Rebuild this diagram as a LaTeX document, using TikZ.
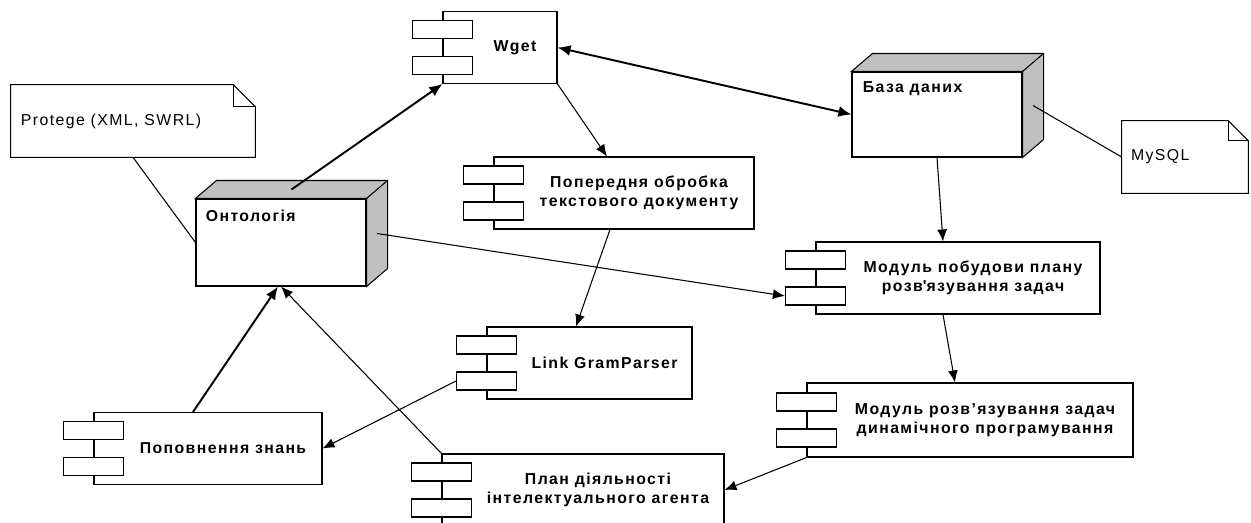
\documentclass[tikz,border=0pt]{standalone}
\usepackage{fontspec}
\setmainfont{Liberation Sans}[LetterSpace=9]
\usepackage{tikz}
\usetikzlibrary{arrows.meta, positioning, calc}
\definecolor{FaceGray}{RGB}{192,192,192}
\tikzstyle{flow} = [-{Latex[length=2.4mm,width=2mm]}, line width=0.6pt]
\tikzstyle{mainflow} = [-{Latex[length=2.6mm,width=2.2mm]}, line width=1.1pt]
\tikzstyle{dualflow} = [{Latex[length=2.6mm,width=2.2mm]}-{Latex[length=2.6mm,width=2.2mm]}, line width=1.1pt]

\begin{document}
\begin{tikzpicture}[x=0.2mm, y=-0.2mm,
    comp/.style={draw, line width=0.6pt, fill=white, minimum height=14.4mm, inner sep=0pt},
    port/.style={draw, line width=0.6pt, fill=white, minimum width=12mm, minimum height=3.6mm, inner sep=0pt},
    lbl/.style={font=\fontsize{9}{11}\selectfont\bfseries, align=center},
    txt/.style={font=\fontsize{9}{11}\selectfont, anchor=west, inner sep=0pt},
    cube/.style={draw, line width=0.6pt, fill=white, minimum width=34mm, inner sep=0pt},
    note/.style={minimum height=14.4mm, inner sep=0pt},
    link/.style={line width=0.6pt}
  ]
  \useasboundingbox (0,0) rectangle (1251,523);

  % 3d nodes
  \node[cube, minimum height=17.4mm] (onto) at (281,242.5) {};
  \filldraw[fill=FaceGray, line width=0.6pt] (onto.north west) -- ++(21,-18) -- ($(onto.north east)+(21,-18)$) -- ($(onto.south east)+(21,-18)$) -- (onto.south east) -- (onto.north east) -- cycle;
  \draw[link] (onto.north east) -- ++(21,-18);
  \node[lbl, anchor=west, inner sep=0pt] (ontotxt) at ([shift={(2mm,-3.4mm)}]onto.north west) {Онтологія};

  \node[cube, minimum height=17mm] (base) at (937,114.5) {};
  \filldraw[fill=FaceGray, line width=0.6pt] (base.north west) -- ++(21,-18) -- ($(base.north east)+(21,-18)$) -- ($(base.south east)+(21,-18)$) -- (base.south east) -- (base.north east) -- cycle;
  \draw[link] (base.north east) -- ++(21,-18);
  \node[lbl, anchor=west, inner sep=0pt] (basetxt) at ([shift={(2.2mm,-3.4mm)}]base.north west) {База даних};

  % notes
  \node[note, minimum width=48.8mm] (protege) at (133,121) {};
  \draw[link] (protege.south west) -- (protege.north west) -- ([xshift=-4.4mm]protege.north east) -- ([yshift=-4.4mm]protege.north east) -- (protege.south east) -- cycle;
  \draw[link] ([xshift=-4.4mm]protege.north east) |- ([yshift=-4.4mm]protege.north east);
  \node[txt] (protegetxt) at ([xshift=2mm]protege.west) {Protege (XML, SWRL)};

  \node[note, minimum width=25.2mm] (mysql) at (1185,157) {};
  \draw[link] (mysql.south west) -- (mysql.north west) -- ([xshift=-4mm]mysql.north east) -- ([yshift=-4mm]mysql.north east) -- (mysql.south east) -- cycle;
  \draw[link] ([xshift=-4mm]mysql.north east) |- ([yshift=-4mm]mysql.north east);
  \node[txt] (mysqltxt) at ([xshift=1.8mm]mysql.west) {MySQL};

  % components
  \node[comp, minimum width=22.8mm] (wget) at (500,47.5) {};
  \node[port] (wgetA) at ([yshift=3.6mm]wget.west) {};
  \node[port] (wgetB) at ([yshift=-3.6mm]wget.west) {};
  \node[lbl] (wgettxt) at ([xshift=3mm]wget.center) {Wget};

  \node[comp, minimum width=52mm] (prep) at (624,193) {};
  \node[port] (prepA) at ([yshift=3.6mm]prep.west) {};
  \node[port] (prepB) at ([yshift=-3.6mm]prep.west) {};
  \node[lbl] (preptxt) at ([xshift=3mm]prep.center) {Попередня обробка\\текстового документу};

  \node[comp, minimum width=41mm] (parser) at (589.5,363) {};
  \node[port] (parserA) at ([yshift=3.6mm]parser.west) {};
  \node[port] (parserB) at ([yshift=-3.6mm]parser.west) {};
  \node[lbl] (parsertxt) at ([xshift=3mm]parser.center) {Link GramParser};

  \node[comp, minimum width=45.6mm] (fill) at (208,448.5) {};
  \node[port] (fillA) at ([yshift=3.6mm]fill.west) {};
  \node[port] (fillB) at ([yshift=-3.6mm]fill.west) {};
  \node[lbl] (filltxt) at ([xshift=3mm]fill.center) {Поповнення знань};

  \node[comp, minimum width=56.4mm] (plan) at (583,490) {};
  \node[port] (planA) at ([yshift=3.6mm]plan.west) {};
  \node[port] (planB) at ([yshift=-3.6mm]plan.west) {};
  \node[lbl] (plantxt) at ([xshift=3mm]plan.center) {План діяльності\\інтелектуального агента};

  \node[comp, minimum width=56.8mm] (build) at (958,278) {};
  \node[port] (buildA) at ([yshift=3.6mm]build.west) {};
  \node[port] (buildB) at ([yshift=-3.6mm]build.west) {};
  \node[lbl] (buildtxt) at ([xshift=3mm]build.center) {Модуль побудови плану\\розв\textquotesingle язування задач};

  \node[comp, minimum width=65.2mm, minimum height=14.8mm] (solve) at (970,420) {};
  \node[port] (solveA) at ([yshift=3.6mm]solve.west) {};
  \node[port] (solveB) at ([yshift=-3.6mm]solve.west) {};
  \node[lbl] (solvetxt) at ([xshift=3mm]solve.center) {Модуль розв’язування задач\\динамічного програмування};

  % connectors
  \coordinate (ontotop) at ($(onto.north)+(10.5,-9)$);
  \coordinate (ontoside) at ($(onto.east)+(10.5,-9)$);
  \coordinate (baseside) at ($(base.east)+(10.5,-9)$);

  \draw[link] (protege.south) -- (onto.west);
  \draw[link] (baseside) -- (mysql.west);
  \draw[mainflow] (ontotop) -- (wget.south west);
  \draw[dualflow] (wget.east) -- (base.west);
  \draw[flow] (wget.south east) -- ([xshift=-3.4mm]prep.north);
  \draw[flow] ([xshift=-2.8mm]prep.south) -- ([xshift=-2.7mm]parser.north);
  \draw[flow] (parserB.west) -- (fill.east);
  \draw[mainflow] ([xshift=-3mm]fill.north) -- ([xshift=-0.6mm]onto.south);
  \draw[flow] (plan.north west) -- (onto.south);
  \draw[flow] (ontoside) -- (buildB.west);
  \draw[flow] (base.south) -- ([xshift=-3mm]build.north);
  \draw[flow] ([xshift=-3mm]build.south) -- ([xshift=-3mm]solve.north);
  \draw[flow] (solve.south west) -- (plan.east);
\end{tikzpicture}
\end{document}
